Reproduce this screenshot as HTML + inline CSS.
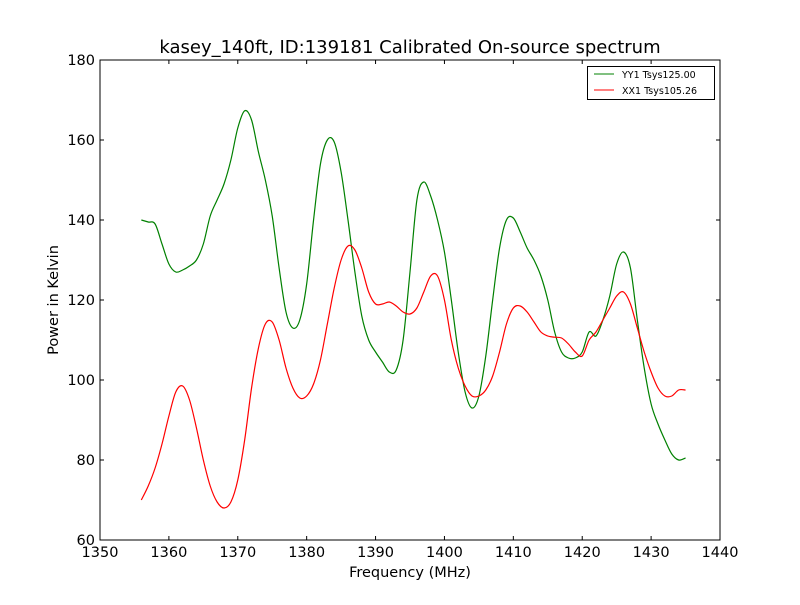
<!DOCTYPE html>
<html><head><meta charset="utf-8"><style>
body{margin:0;background:#fff;}
svg text{font-family:"DejaVu Sans","Liberation Sans",sans-serif;}
</style></head><body>
<svg id="c" width="800" height="600" xmlns="http://www.w3.org/2000/svg">
<rect width="800" height="600" fill="#fff"/>
<text x="410" y="53" font-size="18" text-anchor="middle">kasey_140ft, ID:139181 Calibrated On-source spectrum</text>
<text x="410" y="577" font-size="14.5" text-anchor="middle">Frequency (MHz)</text>
<text x="58" y="300" font-size="14.5" text-anchor="middle" transform="rotate(-90 58 300)">Power in Kelvin</text>
<g id="ticks"></g>
<g id="series"></g>
<rect x="100" y="60" width="620" height="480" fill="none" stroke="#000" stroke-width="1"/>
<g>
<rect x="587.5" y="66.5" width="127" height="33" fill="#fff" stroke="#000"/>
<line x1="594" y1="74" x2="614" y2="74" stroke="#008000"/>
<text x="622" y="78" font-size="9.5">YY1 Tsys125.00</text>
<line x1="594" y1="90" x2="614" y2="90" stroke="#ff0000"/>
<text x="622" y="94" font-size="9.5">XX1 Tsys105.26</text>
</g>
</svg>
<script>
const xTicks=[1350,1360,1370,1380,1390,1400,1410,1420,1430,1440];
const yTicks=[60,80,100,120,140,160,180];
const freqStart=1356;
const yy1=[140,139.5,139,134,129,127,127.5,128.5,130,134,141,145,149,155,163,167.3,165,157,150,141,128,117,113,115,124,140,154,160,159.5,152,140,127,116,110,107,104.5,102,102.5,110,127,145,149.5,146,140,132,120,107,97,93,96,106,120,133,140,140.5,137,133,130,126,120,112,107,105.5,105.5,107,112,111,115,121,129,132,128,115,103,94,89,85,81.5,80,80.5];
const xx1=[70,73.5,78,84,91,97,98.5,95,88,80,73.5,69.5,68,69.5,75,85,98,108,114,114.5,110,103,98,95.5,96,99,105,114,123,130,133.5,132.5,128,122,119,119,119.5,118.5,117,116.5,118,122,126,126,120,110,103,98.5,96,96,97.5,101,107,114,118,118.5,117,114.5,112,111,110.7,110.5,109,107,106,110,112,115,118,121,122,119,113,107,102,98,96,96,97.5,97.5];
const NS='http://www.w3.org/2000/svg';
const X=f=>100+(f-1350)*620/90;
const Y=v=>540-(v-60)*480/120;
const tg=document.getElementById('ticks');
function mk(t,a,p){const e=document.createElementNS(NS,t);for(const k in a)e.setAttribute(k,a[k]);p.appendChild(e);return e;}
xTicks.forEach(t=>{const x=X(t);
const l1=mk('line',{x1:x,y1:540,x2:x,y2:536,stroke:'#000'},tg);


const l2=mk('line',{x1:x,y1:60,x2:x,y2:64,stroke:'#000'},tg);


const tx=mk('text',{x:x,y:557,'font-size':14.5,'text-anchor':'middle'},tg);tx.textContent=t;

});
yTicks.forEach(t=>{const y=Y(t);
const l1=mk('line',{x1:100,y1:y,x2:104,y2:y,stroke:'#000'},tg);


const l2=mk('line',{x1:716,y1:y,x2:720,y2:y,stroke:'#000'},tg);


const tx=mk('text',{x:95,y:y+5,'font-size':14.5,'text-anchor':'end'},tg);tx.textContent=t;

});
function path(vals){const p=vals.map((v,i)=>[X(freqStart+i),Y(v)]);
let d='M'+p[0][0]+','+p[0][1];
for(let i=0;i<p.length-1;i++){const p0=p[i-1]||p[i],p1=p[i],p2=p[i+1],p3=p[i+2]||p2;
d+=' C'+(p1[0]+(p2[0]-p0[0])/6)+','+(p1[1]+(p2[1]-p0[1])/6)+' '+(p2[0]-(p3[0]-p1[0])/6)+','+(p2[1]-(p3[1]-p1[1])/6)+' '+p2[0]+','+p2[1];}
return d;}
const sg=document.getElementById('series');
const g1=mk('path',{d:path(yy1),fill:'none',stroke:'#008000','stroke-width':1.2},sg);


const r1=mk('path',{d:path(xx1),fill:'none',stroke:'#ff0000','stroke-width':1.2},sg);


</script>
</body></html>
